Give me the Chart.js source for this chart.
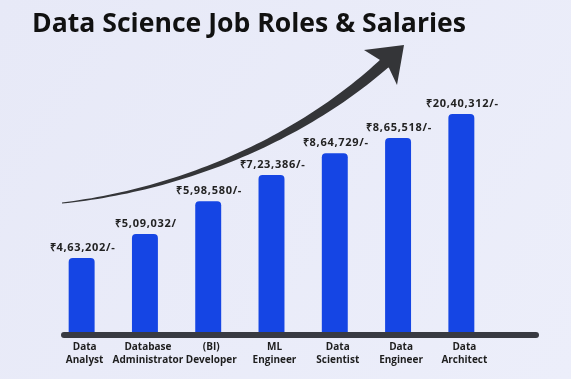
<!DOCTYPE html>
<html>
<head>
<meta charset="utf-8">
<script src="https://cdn.jsdelivr.net/npm/chart.js@4.4.1/dist/chart.umd.min.js"></script>
<style>
  html, body { margin: 0; padding: 0; background: #e9ebf8; }
  #wrap { width: 571px; height: 379px; position: relative; }
</style>
</head>
<body>
<div id="wrap"><canvas id="c" width="571" height="379"></canvas></div>
<script>
// ---- data ----
const chartTitle = 'Data Science Job Roles & Salaries';
const roles = [
  ['Data', 'Analyst'],
  ['Database', 'Administrator'],
  ['(BI)', 'Developer'],
  ['ML', 'Engineer'],
  ['Data', 'Scientist'],
  ['Data', 'Engineer'],
  ['Data', 'Architect']
];
const salaries = [463202, 509032, 598580, 723386, 864729, 865518, 2040312];
const salarySuffix = ['/-', '/', '/-', '/-', '/-', '/-', '/-'];
// relative bar heights as drawn in the infographic (tallest = 100)
const barLevels = [34, 45, 60, 72, 82, 89, 100];

function inr(n) {
  const s = String(n);
  const last3 = s.slice(-3);
  let rest = s.slice(0, -3);
  const parts = [];
  while (rest.length > 2) { parts.unshift(rest.slice(-2)); rest = rest.slice(0, -2); }
  if (rest.length) parts.unshift(rest);
  return '\u20B9' + (parts.length ? parts.join(',') + ',' : '') + last3;
}
const salaryLabels = salaries.map((v, i) => inr(v) + salarySuffix[i]);

const decor = {
  id: 'decor',
  beforeDraw(chart) {
    const ctx = chart.ctx, w = chart.width, h = chart.height;
    ctx.save();
    const g = ctx.createLinearGradient(0, 0, w, h);
    g.addColorStop(0, '#e7e9f7');
    g.addColorStop(1, '#eceefa');
    ctx.fillStyle = g;
    ctx.fillRect(0, 0, w, h);
    // title
    ctx.fillStyle = '#111111';
    ctx.font = '700 26.6px "Open Sans", sans-serif';
    ctx.textBaseline = 'alphabetic';
    ctx.textAlign = 'left';
    ctx.fillText(chartTitle, 32, 32);
    // tapered curved arrow
    const P0 = [62, 203], P1 = [180, 190], P2 = [300, 140], P3 = [386, 62];
    const pt = t => {
      const u = 1 - t;
      return [u*u*u*P0[0] + 3*u*u*t*P1[0] + 3*u*t*t*P2[0] + t*t*t*P3[0],
              u*u*u*P0[1] + 3*u*u*t*P1[1] + 3*u*t*t*P2[1] + t*t*t*P3[1]];
    };
    const N = 60, left = [], right = [];
    for (let i = 0; i <= N; i++) {
      const t = i / N;
      const a = pt(Math.max(0, t - 0.01)), b = pt(Math.min(1, t + 0.01));
      const dx = b[0] - a[0], dy = b[1] - a[1], len = Math.hypot(dx, dy);
      const nx = -dy / len, ny = dx / len;
      const half = 0.6 + 5.0 * Math.pow(t, 1.2);
      const p = pt(t);
      left.push([p[0] + nx * half, p[1] + ny * half]);
      right.push([p[0] - nx * half, p[1] - ny * half]);
    }
    ctx.fillStyle = '#343538';
    ctx.beginPath();
    ctx.moveTo(left[0][0], left[0][1]);
    left.forEach(p => ctx.lineTo(p[0], p[1]));
    for (let i = right.length - 1; i >= 0; i--) ctx.lineTo(right[i][0], right[i][1]);
    ctx.closePath();
    ctx.fill();
    // head
    ctx.beginPath();
    ctx.moveTo(404, 45);
    ctx.lineTo(364, 50);
    ctx.lineTo(380, 60);
    ctx.lineTo(389, 68);
    ctx.lineTo(397, 85);
    ctx.closePath();
    ctx.fill();
    ctx.restore();
  },
  afterDatasetsDraw(chart) {
    const ctx = chart.ctx, area = chart.chartArea;
    ctx.save();
    // baseline bar
    ctx.strokeStyle = '#383a42';
    ctx.lineWidth = 6;
    ctx.lineCap = 'round';
    ctx.beginPath();
    ctx.moveTo(64, area.bottom + 3);
    ctx.lineTo(536, area.bottom + 3);
    ctx.stroke();
    // value labels
    ctx.fillStyle = '#222222';
    ctx.font = '700 11px "Open Sans", sans-serif';
    if ('letterSpacing' in ctx) ctx.letterSpacing = '0.7px';
    ctx.textAlign = 'center';
    ctx.textBaseline = 'alphabetic';
    chart.getDatasetMeta(0).data.forEach((bar, i) => {
      ctx.fillText(salaryLabels[i], bar.x + 1, bar.y - 7);
    });
    if ('letterSpacing' in ctx) ctx.letterSpacing = '0px';
    ctx.restore();
  }
};

new Chart(document.getElementById('c'), {
  type: 'bar',
  data: {
    labels: roles,
    datasets: [{
      data: barLevels,
      backgroundColor: '#1545e4',
      borderRadius: 4,
      borderSkipped: 'start',
      barPercentage: 0.41,
      categoryPercentage: 1
    }]
  },
  options: {
    responsive: false,
    animation: false,
    devicePixelRatio: 1,
    layout: { padding: { top: 114, left: 50, right: 78, bottom: 4 } },
    plugins: { legend: { display: false }, tooltip: { enabled: false }, title: { display: false } },
    scales: {
      y: { display: false, min: 0, max: 100 },
      x: {
        grid: { display: false, drawTicks: false },
        border: { display: false },
        ticks: {
          autoSkip: false, maxRotation: 0, minRotation: 0, padding: 8, labelOffset: 3,
          color: '#1e1e1e',
          font: { family: '"Open Sans", sans-serif', size: 10, weight: '700', lineHeight: 1.35 }
        }
      }
    }
  },
  plugins: [decor]
});
</script>
</body>
</html>
